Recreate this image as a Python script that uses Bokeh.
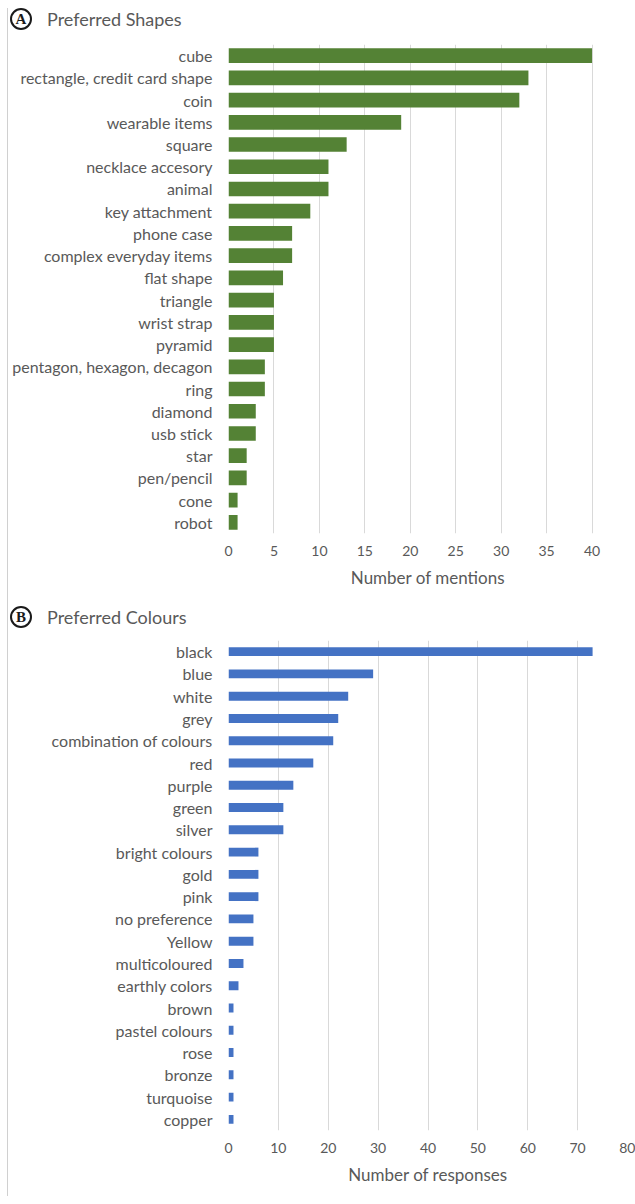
from bokeh.plotting import figure
from bokeh.models import Div, SingleIntervalTicker, Range1d, FactorRange
from bokeh.layouts import column
from bokeh.embed import file_html
from bokeh.resources import INLINE

shapes = ["cube", "rectangle, credit card shape", "coin", "wearable items", "square",
          "necklace accesory", "animal", "key attachment", "phone case",
          "complex everyday items", "flat shape", "triangle", "wrist strap", "pyramid",
          "pentagon, hexagon, decagon", "ring", "diamond", "usb stick", "star",
          "pen/pencil", "cone", "robot"]
shape_counts = [40, 33, 32, 19, 13, 11, 11, 9, 7, 7, 6, 5, 5, 5, 4, 4, 3, 3, 2, 2, 1, 1]

colours = ["black", "blue", "white", "grey", "combination of colours", "red", "purple",
           "green", "silver", "bright colours", "gold", "pink", "no preference", "Yellow",
           "multicoloured", "earthly colors", "brown", "pastel colours", "rose", "bronze",
           "turquoise", "copper"]
colour_counts = [73, 29, 24, 22, 21, 17, 13, 11, 11, 6, 6, 6, 5, 5, 3, 2, 1, 1, 1, 1, 1, 1]

FONT = "Lato"
TXT = "#595959"
W = 627


def title_div(letter, text, height, pad_top):
    html = (
        f'<div style="display:flex;align-items:flex-start;height:{height}px;padding-top:{pad_top}px;box-sizing:border-box;">'
        f'<span style="display:inline-block;box-sizing:border-box;width:22px;height:22px;'
        f'border:2px solid #1a1a1a;border-radius:50%;text-align:center;line-height:18px;'
        f'font-family:\'Liberation Serif\';font-weight:bold;font-size:15px;color:#1a1a1a;margin-left:2px;">{letter}</span>'
        f'<span style="margin-left:15px;font-family:{FONT};font-size:18px;line-height:22px;color:{TXT};">{text}</span></div>'
    )
    return Div(text=html, width=W, height=height, margin=0)


def bar_fig(cats, vals, xmax, interval, color, bar_h, xlabel, height, bottom):
    p = figure(width=W, height=height, y_range=FactorRange(*list(reversed(cats)), range_padding=0),
               x_range=Range1d(0, xmax), output_backend="svg", toolbar_location=None,
               min_border_left=220, min_border_right=8, min_border_top=10,
               min_border_bottom=bottom, margin=0)
    p.hbar(y=cats, right=vals, left=0, height=bar_h, color=color, line_color=None)
    p.outline_line_color = None
    p.ygrid.grid_line_color = None
    p.xgrid.grid_line_color = "#D9D9D9"
    p.xgrid.ticker = SingleIntervalTicker(interval=interval)
    p.xaxis.ticker = SingleIntervalTicker(interval=interval)
    for ax in (p.xaxis, p.yaxis):
        ax.axis_line_color = None
        ax.major_tick_line_color = None
        ax.minor_tick_line_color = None
        ax.major_label_text_font = FONT
        ax.major_label_text_color = TXT
    p.yaxis.major_label_text_font_size = "16px"
    p.yaxis.major_label_standoff = 10
    p.xaxis.major_label_text_font_size = "14px"
    p.xaxis.major_label_standoff = 6
    p.xaxis.axis_label = xlabel
    p.xaxis.axis_label_text_font = FONT
    p.xaxis.axis_label_text_font_style = "normal"
    p.xaxis.axis_label_text_font_size = "17px"
    p.xaxis.axis_label_text_color = TXT
    p.xaxis.axis_label_standoff = 8
    return p


divA = title_div("A", "Preferred Shapes", 26, 0)
pA = bar_fig(shapes, shape_counts, 43.9, 5, "#548235", 0.66, "Number of mentions", 564, 65)
divB = title_div("B", "Preferred Colours", 32, 8)
pB = bar_fig(colours, colour_counts, 80, 10, "#4472C4", 0.4, "Number of responses", 566, 66)

layout = column(divA, pA, divB, pB, spacing=0, margin=(8, 0, 0, 7),
                styles={"border-left": "1px solid #D0D0D0"})

open("out.html", "w").write(file_html(layout, INLINE))
